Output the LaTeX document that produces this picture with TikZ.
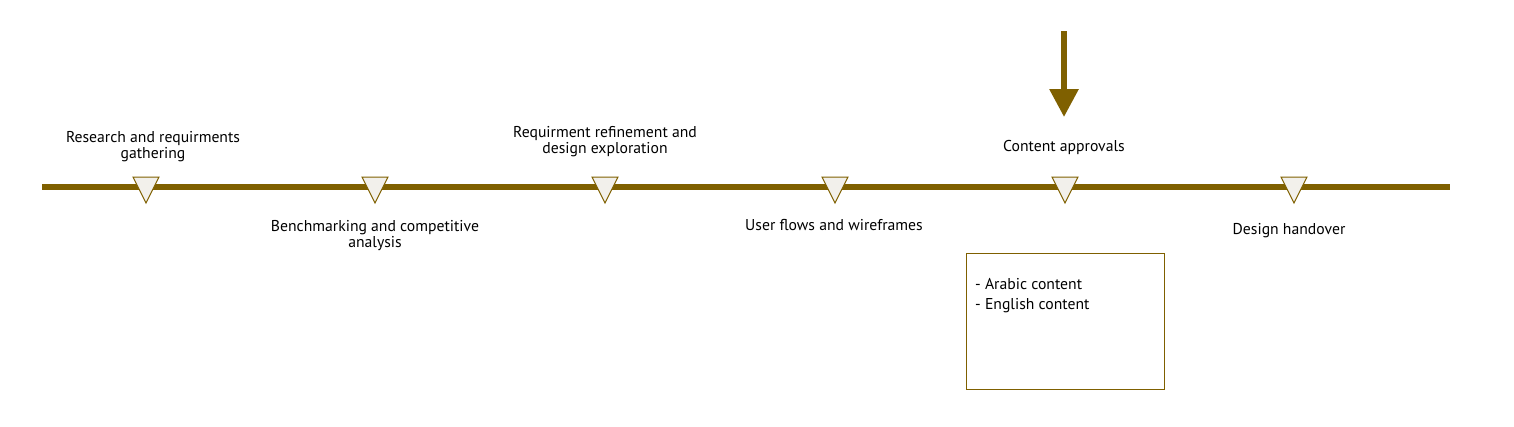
\documentclass[tikz,border=0pt]{standalone}
\usepackage{fontspec}
\setmainfont{PT Sans}
\usetikzlibrary{arrows.meta}
\definecolor{olive}{RGB}{127,96,0}
\definecolor{trifill}{RGB}{242,240,235}
\tikzset{
  lbl/.style={align=center, font=\fontsize{15.7}{16}\selectfont, inner sep=0pt},
  boxtxt/.style={anchor=base west, font=\fontsize{15.7}{16}\selectfont, inner sep=0pt},
  tri/.style={draw=olive, fill=trifill, line width=1pt, line join=miter},
}
\begin{document}
\begin{tikzpicture}[x=1pt,y=-1pt]
\useasboundingbox (0,0) rectangle (1514,426);
\coordinate (L) at (42,186.5);
\coordinate (R) at (1450,186.5);
\draw[olive, line width=6pt] (L) -- (R);
\foreach \i/\x in {1/146,2/375,3/605,4/835,5/1065,6/1294}{
  \draw[tri] (\x-13,177) -- (\x+13,177) -- (\x,203) -- cycle;
  \coordinate (t\i) at (\x,190);
}
\node[lbl] (n1) at (153,147) {Research and requirments\\gathering};
\node[lbl] (n2) at (375,236) {Benchmarking and competitive\\analysis};
\node[lbl] (n3) at (605,142) {Requirment refinement and\\design exploration};
\node[lbl] (n4) at (834,225) {User flows and wireframes};
\node[lbl] (n5) at (1064,147) {Content approvals};
\node[lbl] (n6) at (1289,231) {Design handover};
\coordinate (a0) at (1064,31);
\coordinate (a1) at (1064,117);
\draw[olive, line width=6pt, -{Triangle[length=28pt,width=28pt]}] (a0) -- (a1);
\node[draw=olive, line width=1pt, minimum width=198pt, minimum height=136pt, anchor=north west, inner sep=0pt] (box) at (966,253) {};
\node[boxtxt] (bt1) at (975,289) {- Arabic content};
\node[boxtxt] (bt2) at (975,309) {- English content};
\end{tikzpicture}
\end{document}
